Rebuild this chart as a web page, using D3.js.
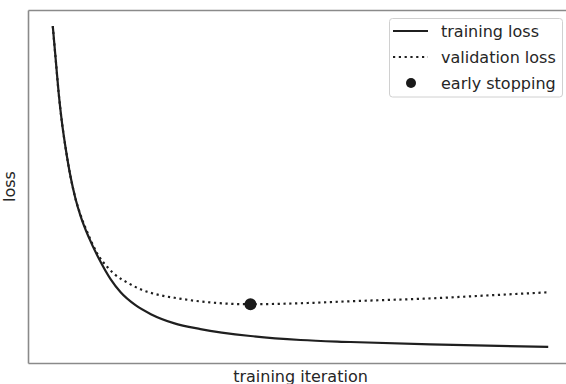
<!DOCTYPE html>
<html>
<head>
<meta charset="utf-8">
<script src="https://cdn.jsdelivr.net/npm/d3@7"></script>
<style>
  html, body { margin: 0; padding: 0; background: #fff; }
  svg { display: block; }
  text { font-family: "DejaVu Sans", sans-serif; fill: #262626; }
</style>
</head>
<body>
<svg id="chart" width="566" height="384"></svg>
<script>
// iterations (arbitrary units) and loss values
const trainIter = [0, 0.6, 1.2, 1.8, 2.6, 3.6, 4.6, 5.6, 7.3, 9.3, 11.7, 13.7, 16.7, 19.8, 24.4, 29.8, 39.9, 50, 60.1, 76.2, 100];
const trainLoss = [3.38, 3.04, 2.70, 2.43, 2.15, 1.86, 1.64, 1.47, 1.25, 1.04, 0.83, 0.70, 0.57, 0.48, 0.39, 0.33, 0.26, 0.22, 0.20, 0.175, 0.15];

const validIter = [0, 0.6, 1.2, 1.8, 2.6, 3.6, 4.6, 5.6, 7.1, 9.1, 11.1, 12.3, 15.7, 17.7, 21.8, 25.2, 31.3, 39.9, 50, 60, 76.8, 88.3, 100];
const validLoss = [3.38, 3.04, 2.70, 2.43, 2.15, 1.86, 1.64, 1.48, 1.29, 1.08, 0.95, 0.89, 0.78, 0.73, 0.67, 0.64, 0.60, 0.58, 0.59, 0.61, 0.64, 0.67, 0.70];

const stopIter = [39.9];
const stopLoss = [0.58];

const legendLabels = ["training loss", "validation loss", "early stopping"];
const xLabel = "training iteration";
const yLabel = "loss";

const svg = d3.select("#chart");
const ax = { left: 28, right: 573, top: 10, bottom: 363 };

const xExt = d3.extent(trainIter.concat(validIter));
const yExt = d3.extent(trainLoss.concat(validLoss));
const xPad = (xExt[1] - xExt[0]) * 0.05;
const yPad = (yExt[1] - yExt[0]) * 0.05;

const x = d3.scaleLinear().domain([xExt[0] - xPad, xExt[1] + xPad]).range([ax.left, ax.right]);
const y = d3.scaleLinear().domain([yExt[0] - yPad, yExt[1] + yPad]).range([ax.bottom, ax.top]);

svg.append("defs").append("clipPath").attr("id", "clip")
  .append("rect").attr("x", ax.left).attr("y", ax.top)
  .attr("width", ax.right - ax.left).attr("height", ax.bottom - ax.top);

const line = d3.line().curve(d3.curveMonotoneX)
  .x(d => x(d[0])).y(d => y(d[1]));

const plot = svg.append("g").attr("clip-path", "url(#clip)");

plot.append("path")
  .datum(validIter.map((v, i) => [v, validLoss[i]]))
  .attr("d", line)
  .attr("fill", "none")
  .attr("stroke", "#1f1f1f")
  .attr("stroke-width", 2.2)
  .attr("stroke-dasharray", "2.2,3.6");

plot.append("path")
  .datum(trainIter.map((v, i) => [v, trainLoss[i]]))
  .attr("d", line)
  .attr("fill", "none")
  .attr("stroke", "#1f1f1f")
  .attr("stroke-width", 2.2);

plot.selectAll("circle.stop")
  .data(stopIter.map((v, i) => [v, stopLoss[i]]))
  .join("circle")
  .attr("class", "stop")
  .attr("cx", d => x(d[0])).attr("cy", d => y(d[1]))
  .attr("r", 6)
  .attr("fill", "#1a1a1a");

// axes frame (spines) via d3 axes with no ticks
const xAxisB = d3.axisBottom(x).tickValues([]).tickSizeOuter(0);
const xAxisT = d3.axisTop(x).tickValues([]).tickSizeOuter(0);
const yAxisL = d3.axisLeft(y).tickValues([]).tickSizeOuter(0);
const yAxisR = d3.axisRight(y).tickValues([]).tickSizeOuter(0);
[[xAxisB, `translate(0,${ax.bottom})`], [xAxisT, `translate(0,${ax.top})`],
 [yAxisL, `translate(${ax.left},0)`], [yAxisR, `translate(${ax.right},0)`]].forEach(([a, t]) => {
  const g = svg.append("g").attr("transform", t).call(a);
  g.select(".domain").attr("stroke", "#8a8a8a").attr("stroke-width", 1.6);
});

// axis labels
svg.append("text")
  .attr("x", (ax.left + ax.right) / 2).attr("y", 381.5)
  .attr("text-anchor", "middle").attr("font-size", 16)
  .text(xLabel);

svg.append("text")
  .attr("transform", `translate(15,${(ax.top + ax.bottom) / 2}) rotate(-90)`)
  .attr("text-anchor", "middle").attr("font-size", 16)
  .text(yLabel);

// legend
const lg = svg.append("g");
lg.append("rect")
  .attr("x", 389.5).attr("y", 18.5).attr("width", 173).attr("height", 78.5)
  .attr("rx", 3).attr("fill", "#fff").attr("stroke", "#d0d0d0").attr("stroke-width", 1);
const rowY = [31, 57, 83];
legendLabels.forEach((lab, i) => {
  if (i === 0) {
    lg.append("line").attr("x1", 393).attr("x2", 428).attr("y1", rowY[i]).attr("y2", rowY[i])
      .attr("stroke", "#1f1f1f").attr("stroke-width", 2.2);
  } else if (i === 1) {
    lg.append("line").attr("x1", 393).attr("x2", 428).attr("y1", rowY[i]).attr("y2", rowY[i])
      .attr("stroke", "#1f1f1f").attr("stroke-width", 2.2).attr("stroke-dasharray", "2.2,3.6");
  } else {
    lg.append("circle").attr("cx", 411).attr("cy", rowY[i]).attr("r", 5).attr("fill", "#1a1a1a");
  }
  lg.append("text").attr("x", 441).attr("y", rowY[i] + 5.5)
    .attr("font-size", 16).text(lab);
});
</script>
</body>
</html>
